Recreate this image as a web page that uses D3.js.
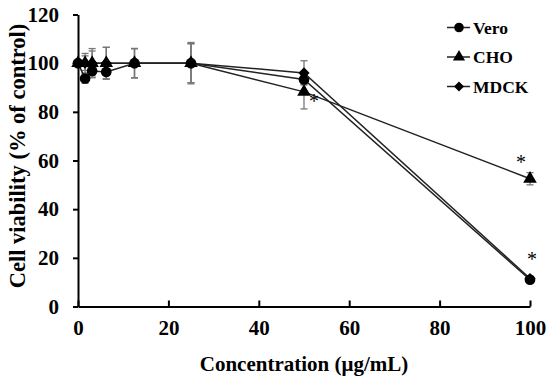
<!DOCTYPE html>
<html>
<head>
<meta charset="utf-8">
<script src="https://cdn.jsdelivr.net/npm/d3@7"></script>
<style>
  body { margin: 0; background: #fff; }
  svg text { font-family: "Liberation Serif", "Times New Roman", "DejaVu Serif", serif !important; font-weight: bold; }
</style>
</head>
<body>
<script>
// concentrations in ug/mL
var conc = [0, 1.5625, 3.125, 6.25, 12.5, 25, 50, 100];
var vero = [100, 93.7, 96.8, 96.4, 100, 100, 93.3, 11];
var cho = [100, 100, 100, 100, 100, 100, 88.2, 52.5];
var mdck = [100, 100, 100, 100, 100, 100, 96, 11.5];
var veroErr = [0, 2, 2.5, 3, 6, 8, 2, 1];
var choErr = [0, 4, 6, 6.5, 6, 8, 7, 2.5];
var mdckErr = [0, 3, 5, 6.5, 6, 8.5, 5, 1];
var xTicks = [0, 20, 40, 60, 80, 100];
var yTicks = [0, 20, 40, 60, 80, 100, 120];

var series = [
  {name: "Vero", vals: vero, err: veroErr, shape: d3.symbolCircle, size: 90},
  {name: "CHO", vals: cho, err: choErr, shape: d3.symbolTriangle, size: 80},
  {name: "MDCK", vals: mdck, err: mdckErr, shape: d3.symbolDiamond2, size: 80}
];

// significance marks: [series index, point index, dx, dy]
var stars = [[1, 6, 10, 16], [1, 7, -9, -10], [0, 7, 2, -14]];

var width = 550, height = 380;
var svg = d3.select("body").append("svg")
  .attr("width", width).attr("height", height);

var x = d3.scaleLinear().domain([0, 100]).range([78, 530]);
var y = d3.scaleLinear().domain([0, 120]).range([306.5, 14.5]);

// axes
var xAxis = svg.append("g").attr("transform", "translate(0," + y(0) + ")")
  .call(d3.axisBottom(x).tickValues(xTicks).tickSizeInner(-6).tickSizeOuter(0).tickPadding(14));
var yAxis = svg.append("g").attr("transform", "translate(" + x(0) + ",0)")
  .call(d3.axisLeft(y).tickValues(yTicks).tickSizeInner(5).tickSizeOuter(0).tickPadding(14));

[xAxis, yAxis].forEach(function(a) {
  a.attr("font-family", null).attr("font-size", null);
  a.select(".domain").attr("stroke", "#000").attr("stroke-width", 2);
  a.selectAll(".tick line").attr("stroke", "#000").attr("stroke-width", 2);
  a.selectAll(".tick text").attr("font-size", 21).attr("fill", "#000");
});
xAxis.selectAll(".tick text").attr("dy", "0.71em");

svg.append("text")
  .attr("x", 304).attr("y", 371)
  .attr("text-anchor", "middle").attr("font-size", 21)
  .text("Concentration (μg/mL)");

svg.append("text")
  .attr("transform", "translate(25,156) rotate(-90)")
  .attr("text-anchor", "middle").attr("font-size", 22.5)
  .text("Cell viability (% of control)");

// error bars
series.forEach(function(s) {
  var g = svg.append("g").attr("stroke", "#777").attr("stroke-width", 1.3);
  conc.forEach(function(c, i) {
    if (!s.err[i]) return;
    var cx = x(c), hi = y(s.vals[i] + s.err[i]), lo = y(s.vals[i] - s.err[i]);
    g.append("line").attr("x1", cx).attr("x2", cx).attr("y1", hi).attr("y2", lo);
    g.append("line").attr("x1", cx - 3.5).attr("x2", cx + 3.5).attr("y1", hi).attr("y2", hi);
    g.append("line").attr("x1", cx - 3.5).attr("x2", cx + 3.5).attr("y1", lo).attr("y2", lo);
  });
});

var line = d3.line().x(function(d) { return x(d[0]); }).y(function(d) { return y(d[1]); });

series.forEach(function(s) {
  var pts = conc.map(function(c, i) { return [c, s.vals[i]]; });
  svg.append("path").datum(pts)
    .attr("d", line).attr("fill", "none")
    .attr("stroke", "#222").attr("stroke-width", 1.5);
  svg.selectAll(null).data(pts).enter().append("path")
    .attr("d", d3.symbol().type(s.shape).size(s.size))
    .attr("transform", function(d) { return "translate(" + x(d[0]) + "," + y(d[1]) + ")"; })
    .attr("fill", "#000");
});

stars.forEach(function(st) {
  var s = series[st[0]];
  svg.append("text")
    .attr("x", x(conc[st[1]]) + st[2]).attr("y", y(s.vals[st[1]]) + st[3])
    .attr("text-anchor", "middle").attr("font-size", 20)
    .style("font-weight", "normal")
    .text("*");
});

// legend
var leg = svg.append("g").attr("transform", "translate(447,0)");
series.forEach(function(s, i) {
  var ly = 27.5 + i * 29.5;
  leg.append("line").attr("x1", 0).attr("x2", 23).attr("y1", ly).attr("y2", ly)
    .attr("stroke", "#222").attr("stroke-width", 1.5);
  leg.append("path").attr("d", d3.symbol().type(s.shape).size(s.size * 0.8))
    .attr("transform", "translate(12," + ly + ")").attr("fill", "#000");
  leg.append("text").attr("x", 26).attr("y", ly + 6)
    .attr("font-size", 17.5).text(s.name);
});
</script>
</body>
</html>
